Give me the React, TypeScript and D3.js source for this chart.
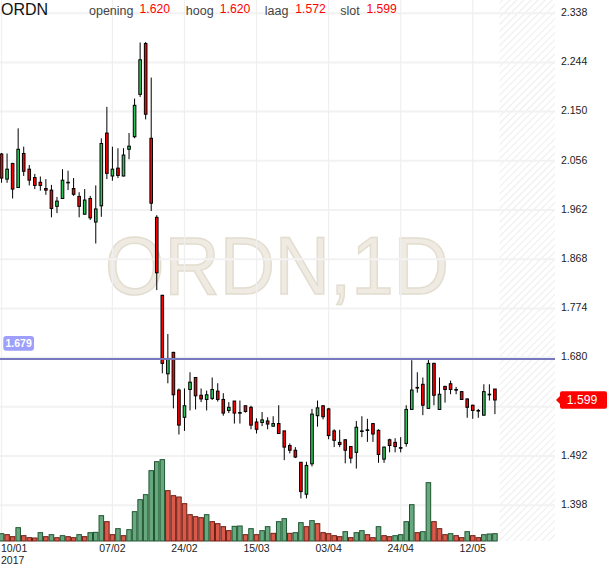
import React from "react";
import * as d3 from "d3";

// ---------- data ----------
const symbol = "ORDN";
const dates = [
  "10/01","11/01","12/01","13/01","16/01","17/01","18/01","19/01","20/01","23/01","24/01","25/01","26/01","27/01","30/01","31/01",
  "01/02","02/02","03/02","06/02","07/02","08/02","09/02","10/02","13/02","14/02","15/02","16/02","17/02","20/02","21/02","22/02","23/02","24/02","27/02","28/02",
  "01/03","02/03","03/03","06/03","07/03","08/03","09/03","10/03","13/03","14/03","15/03","16/03","17/03","20/03","21/03","22/03","23/03","24/03","27/03","28/03","29/03","30/03","31/03",
  "03/04","04/04","05/04","06/04","07/04","10/04","11/04","12/04","13/04","18/04","19/04","20/04","21/04","24/04","25/04","26/04","27/04","28/04",
  "02/05","03/05","04/05","05/05","08/05","09/05","10/05","11/05","12/05","15/05","16/05","17/05","18/05",
];
const opens = [2.069,2.021,2.051,2.005,2.070,2.040,2.024,2.015,2.003,2.000,1.969,1.984,2.015,2.003,1.988,1.954,1.984,1.939,1.970,2.109,2.027,2.042,2.027,2.078,2.102,2.183,2.280,2.099,1.948,1.799,1.649,1.690,1.618,1.566,1.619,1.642,1.608,1.600,1.602,1.616,1.600,1.579,1.597,1.575,1.588,1.585,1.557,1.556,1.559,1.549,1.554,1.540,1.512,1.503,1.480,1.419,1.477,1.569,1.588,1.582,1.540,1.518,1.523,1.510,1.499,1.540,1.542,1.554,1.541,1.486,1.523,1.518,1.508,1.516,1.581,1.623,1.629,1.583,1.669,1.581,1.625,1.630,1.619,1.615,1.601,1.589,1.579,1.570,1.610,1.620];
const highs = [2.071,2.070,2.052,2.118,2.083,2.048,2.031,2.026,2.021,2.010,1.987,2.040,2.037,2.023,1.996,2.002,1.989,2.009,2.099,2.159,2.083,2.080,2.080,2.109,2.175,2.282,2.283,2.215,1.952,1.800,1.725,1.691,1.621,1.621,1.652,1.643,1.621,1.617,1.642,1.631,1.612,1.595,1.597,1.598,1.588,1.588,1.564,1.576,1.566,1.568,1.589,1.540,1.516,1.509,1.480,1.481,1.582,1.598,1.589,1.584,1.543,1.542,1.524,1.511,1.559,1.568,1.563,1.555,1.543,1.510,1.525,1.526,1.528,1.589,1.675,1.652,1.642,1.678,1.670,1.642,1.626,1.636,1.624,1.616,1.602,1.590,1.582,1.629,1.629,1.620];
const lows = [2.014,2.014,1.984,2.004,2.027,2.009,2.002,1.999,1.991,1.948,1.956,1.983,2.000,1.989,1.948,1.953,1.943,1.898,1.949,2.021,2.018,2.023,2.026,2.059,2.099,2.178,2.135,1.960,1.809,1.650,1.631,1.583,1.533,1.540,1.579,1.581,1.595,1.579,1.599,1.596,1.569,1.574,1.554,1.554,1.575,1.543,1.535,1.549,1.543,1.548,1.535,1.484,1.497,1.488,1.411,1.411,1.472,1.548,1.562,1.524,1.509,1.509,1.478,1.478,1.468,1.528,1.519,1.519,1.479,1.479,1.499,1.499,1.499,1.510,1.580,1.613,1.570,1.582,1.589,1.580,1.594,1.610,1.610,1.599,1.565,1.563,1.565,1.569,1.598,1.572];
const closes = [2.023,2.040,2.002,2.078,2.036,2.019,2.009,2.009,2.000,1.965,1.979,2.019,2.015,1.992,1.969,1.981,1.947,1.964,2.089,2.032,2.040,2.028,2.067,2.084,2.162,2.249,2.145,1.975,1.842,1.669,1.677,1.609,1.551,1.588,1.633,1.607,1.601,1.609,1.619,1.600,1.574,1.585,1.574,1.575,1.577,1.551,1.543,1.561,1.553,1.554,1.535,1.509,1.503,1.490,1.424,1.474,1.572,1.584,1.567,1.531,1.522,1.514,1.503,1.488,1.547,1.540,1.542,1.534,1.495,1.509,1.512,1.510,1.508,1.581,1.618,1.623,1.589,1.669,1.608,1.610,1.619,1.619,1.619,1.600,1.585,1.579,1.579,1.615,1.610,1.599];
// volume in thousands
const volumes = [22,19,13,40,16,10,9,25,13,19,10,16,13,10,19,13,25,26,76,58,19,37,16,34,88,124,139,211,238,244,151,136,132,112,79,73,70,79,58,52,43,31,44,45,19,37,19,31,43,23,58,67,23,25,55,43,61,52,25,22,16,13,28,10,25,31,19,10,43,16,13,16,19,58,109,25,28,175,58,37,19,22,16,10,28,16,10,19,21,22];
const priceTicks = [2.338,2.244,2.150,2.056,1.962,1.868,1.774,1.680,1.586,1.492,1.398];
const dateTicks = ["10/01","07/02","24/02","15/03","03/04","24/04","12/05"];
const yearLabel = "2017";
const refLevel = 1.679;
const lastQuote = { opening: "1.620", hoog: "1.620", laag: "1.572", slot: "1.599" };

const FONT = "'Liberation Sans', Arial, Helvetica, sans-serif";

export default function App() {
  const W = 610, H = 568;
  const plotRight = 555;
  const volBase = 541;
  const n = dates.length;
  const x = d3.scaleBand<number>().domain(d3.range(n)).range([-1.24, 497.7]).padding(0);
  const bw = x.bandwidth();
  const cx = (i: number) => (x(i) as number) + bw / 2;
  const y = d3.scaleLinear().domain([1.398, 2.338]).range([505.2, 13.2]);
  const yv = d3.scaleLinear().domain([0, 300]).range([volBase, volBase - 100]);

  const green = "#2cc65a";
  const red = "#ff0000";
  const lastClose = closes[n - 1];
  const lastY = y(lastClose);
  const boxTop = lastY - 8.8, boxBot = lastY + 8.8;

  return (
    <div style={{ position: "absolute", left: 0, top: 0 }}>
      <svg width={W} height={H} style={{ display: "block", fontFamily: FONT }}>
        <defs>
          <pattern id="hatch" width="5" height="5" patternUnits="userSpaceOnUse" patternTransform="rotate(45)">
            <rect width="5" height="5" fill="#ffffff" />
            <line x1="0" y1="0" x2="0" y2="5" stroke="#ededed" strokeWidth="2" />
          </pattern>
        </defs>
        <rect x={0} y={0} width={W} height={H} fill="#ffffff" />
        <rect x={499.5} y={0} width={plotRight - 499.5} height={volBase} fill="url(#hatch)" />

        {/* watermark */}
        <text x={105} y={294} fontSize={81} textLength={344} lengthAdjust="spacingAndGlyphs"
          fill="#efebe3" stroke="#e3ddd0" strokeWidth={1.5}>{symbol + ",1D"}</text>

        {/* grid */}
        {priceTicks.map((t) => (
          <line key={"h" + t} x1={0} x2={plotRight} y1={y(t)} y2={y(t)} stroke="#f2f2f2" strokeWidth={2} />
        ))}
        {dateTicks.map((d) => {
          const i = dates.indexOf(d);
          return <line key={"v" + d} x1={cx(i)} x2={cx(i)} y1={0} y2={volBase} stroke="#efefef" strokeWidth={1.2} />;
        })}

        {/* volume */}
        {volumes.map((v, i) => {
          const up = i === 0 || v > volumes[i - 1];
          return (
            <rect key={"vol" + i} x={(x(i) as number) + 0.5} width={bw - 1} y={yv(v)} height={volBase - yv(v)}
              fill={up ? "#67a87f" : "#d95a4a"} stroke={up ? "#1f5530" : "#6e1c12"} strokeWidth={1} />
          );
        })}

        {/* candles */}
        {opens.map((o, i) => {
          const c = closes[i];
          const up = c >= o;
          const top = y(Math.max(o, c));
          const h = Math.max(Math.abs(y(o) - y(c)), 0.6);
          return (
            <g key={"c" + i}>
              <line x1={cx(i)} x2={cx(i)} y1={y(highs[i])} y2={y(lows[i])} stroke="#000" strokeWidth={1} />
              <rect x={cx(i) - 1.3} width={2.6} y={top} height={h} fill={o === c ? "#000" : up ? green : red}
                stroke="#000" strokeWidth={1} />
            </g>
          );
        })}

        {/* reference level */}
        <line x1={0} x2={plotRight} y1={y(refLevel) + 0.8} y2={y(refLevel) + 0.8} stroke="#7878bf" strokeWidth={2} />
        <rect x={3.3} y={336} width={30.7} height={14.7} rx={3} fill="#9e9efc" />
        <text x={18.6} y={347} fontSize={10.5} fontWeight="bold" fill="#ffffff" textAnchor="middle">{refLevel.toFixed(3)}</text>

        {/* right axis (labels hidden behind the last-price tag are not drawn) */}
        {priceTicks
          .filter((t) => y(t) - 1 < boxTop - 4 || y(t) - 1 > boxBot + 4)
          .map((t) => (
            <text key={"t" + t} x={561} y={y(t) + 2.8} fontSize={10.5} fill="#222">{t.toFixed(3)}</text>
          ))}
        {/* last price label */}
        <path d={`M556,${lastY} L560,${lastY - 4} L560,${boxTop + 2} Q560,${boxTop} 562,${boxTop} L605,${boxTop} Q607,${boxTop} 607,${boxTop + 2} L607,${boxBot - 2} Q607,${boxBot} 605,${boxBot} L562,${boxBot} Q560,${boxBot} 560,${boxBot - 2} L560,${lastY + 4} Z`}
          fill="#ff0000" />
        <text x={582} y={lastY + 4.4} fontSize={12.2} fill="#ffffff" textAnchor="middle">{lastClose.toFixed(3)}</text>

        {/* bottom axis */}
        {dateTicks.map((d, k) => {
          const i = dates.indexOf(d);
          return k === 0 ? (
            <text key={"d" + d} x={1} y={551.6} fontSize={10.5} fill="#222">{d}</text>
          ) : (
            <text key={"d" + d} x={cx(i)} y={551.6} fontSize={10.5} fill="#222" textAnchor="middle">{d}</text>
          );
        })}
        <text x={1} y={563.6} fontSize={10.5} fill="#222">{yearLabel}</text>

        {/* header */}
        <text x={1} y={14.9} fontSize={16} fill="#111">{symbol}</text>
        <text x={89} y={15} fontSize={12.5} fill="#444">opening</text>
        <text x={139.6} y={12.9} fontSize={12.2} fill="#ff0000">{lastQuote.opening}</text>
        <text x={185.8} y={15} fontSize={12.5} fill="#444">hoog</text>
        <text x={219.8} y={12.9} fontSize={12.2} fill="#ff0000">{lastQuote.hoog}</text>
        <text x={264.8} y={15} fontSize={12.5} fill="#444">laag</text>
        <text x={295.3} y={12.9} fontSize={12.2} fill="#ff0000">{lastQuote.laag}</text>
        <text x={340.2} y={15} fontSize={12.5} fill="#444">slot</text>
        <text x={366.4} y={12.9} fontSize={12.2} fill="#ff0000">{lastQuote.slot}</text>
      </svg>
    </div>
  );
}
